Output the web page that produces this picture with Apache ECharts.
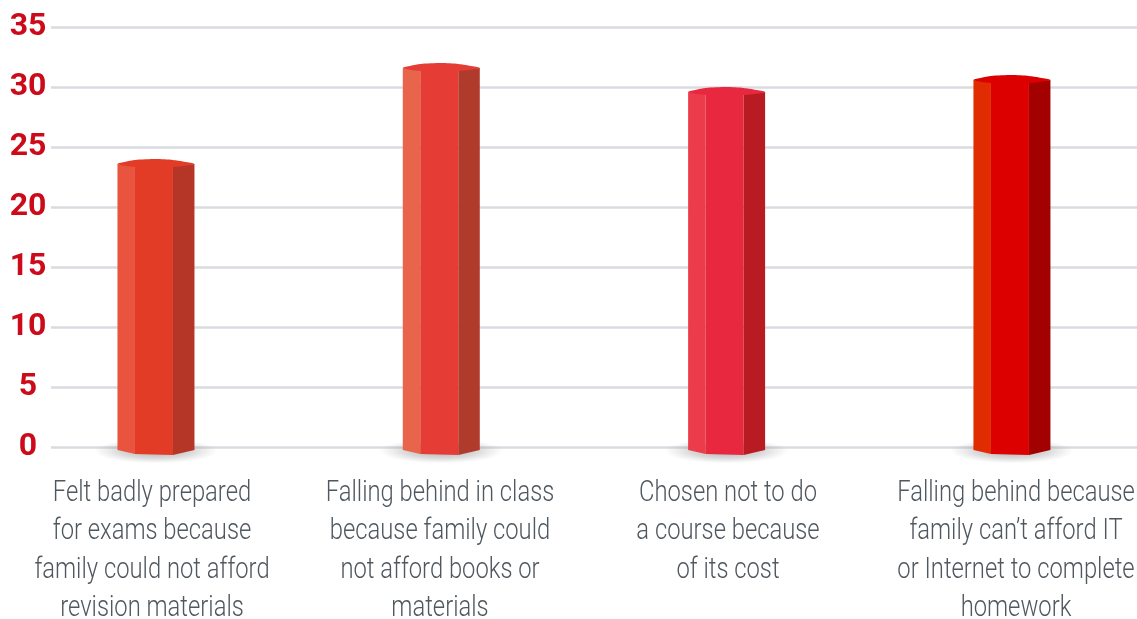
<!DOCTYPE html>
<html><head><meta charset="utf-8">
<style>html,body{margin:0;padding:0;background:#fff}#c{width:1137px;height:619px}</style>
<script src="https://cdn.jsdelivr.net/npm/echarts@6/dist/echarts.min.js"></script>
</head><body><div id="c"></div>
<script>
const categories = [
  "Felt badly prepared\nfor exams because\nfamily could not afford\nrevision materials",
  "Falling behind in class\nbecause family could\nnot afford books or\nmaterials",
  "Chosen not to do\na course because\nof its cost",
  "Falling behind because\nfamily can’t afford IT\nor Internet to complete\nhomework"
];
const values = [24, 32, 30, 31];
const leftFace = ["#e9543f", "#e8644a", "#ec3c4c", "#e02c00"];
const midFace = ["#e23c27", "#e53d35", "#e8283f", "#dc0000"];
const rightFace = ["#b53526", "#b03a2c", "#b81c22", "#a30000"];
const yMin = 0, yMax = 35, yStep = 5;

const chart = echarts.init(document.getElementById('c'), null, {renderer:'canvas'});
function renderPrism(params, api){
  const i = api.value(0);
  const top = api.coord([i, api.value(1)]);
  const base = api.coord([i, 0]);
  const cx = top[0], yT = top[1] + 5, yB = base[1] + 3;
  const xL = cx-38.5, xA = cx-21, xB = cx+17, xR = cx+38.5;
  const poly = (pts, fill) => ({type:'polygon', shape:{points:pts}, style:{fill}});
  const shadow = new echarts.graphic.RadialGradient(0.5,0.5,0.5,[
    {offset:0, color:'rgba(70,70,75,0.45)'},
    {offset:0.6, color:'rgba(90,90,95,0.22)'},
    {offset:1, color:'rgba(120,120,125,0)'}
  ]);
  return {type:'group', children:[
    {type:'circle', x:cx, y:base[1]+4, scaleY:0.2, shape:{cx:0, cy:0, r:62}, style:{fill:shadow}},
    poly([[xL,yT],[xA,yT+2],[xA,yB+4],[xL,yB]], leftFace[i]),
    poly([[xA,yT+2],[xB,yT+2],[xB,yB+5],[xA,yB+4]], midFace[i]),
    poly([[xB,yT+2],[xR,yT],[xR,yB],[xB,yB+5]], rightFace[i]),
    {type:'polygon', shape:{smooth:0.25, points:[[xL,yT],[xA,yT-4],[cx,yT-5],[xB,yT-4],[xR,yT],[xB,yT+3],[xA,yT+3]]}, style:{fill:midFace[i]}}
  ]};
}
function renderCategoryLabel(params, api){
  const i = api.value(0);
  const base = api.coord([i, 0]);
  return {type:'text', x:base[0], y:base[1]+27, scaleX:0.82, scaleY:1, silent:true,
    style:{text:categories[i], align:'center', verticalAlign:'top', fill:'#50585f',
      fontFamily:'Roboto', fontWeight:300, fontSize:29, lineHeight:38.5}};
}
const layout = {top:27, height:420, outerBoundsMode:'none'};
chart.setOption({
  animation:false,
  backgroundColor:'#fff',
  grid:[
    {left:51, right:0, ...layout},
    {left:13.3, width:1141.3, ...layout},
    {left:8, width:1152, ...layout}
  ],
  xAxis:[0,1,2].map(g => ({gridIndex:g, type:'category', data:categories, show:false})),
  yAxis:[
    {gridIndex:0, type:'value', min:yMin, max:yMax, interval:yStep, axisLine:{show:false}, axisTick:{show:false},
     axisLabel:{color:'#cc0a1a', fontFamily:'Roboto', fontWeight:'bold', fontSize:32, margin:23, align:'center', verticalAlign:'middle', lineHeight:44},
     splitLine:{lineStyle:{color:'#d8dbe0', width:2.5}}},
    {gridIndex:1, type:'value', min:yMin, max:yMax, interval:yStep, show:false, splitLine:{show:false}},
    {gridIndex:2, type:'value', min:yMin, max:yMax, interval:yStep, show:false, splitLine:{show:false}}
  ],
  series:[
    {type:'custom', xAxisIndex:1, yAxisIndex:1, clip:false, renderItem:renderPrism,
     encode:{x:0,y:1}, data:values.map((v,i)=>[i,v])},
    {type:'custom', xAxisIndex:2, yAxisIndex:2, clip:false, renderItem:renderCategoryLabel,
     encode:{x:0,y:1}, data:values.map((v,i)=>[i,v])}
  ]
});
</script></body></html>
